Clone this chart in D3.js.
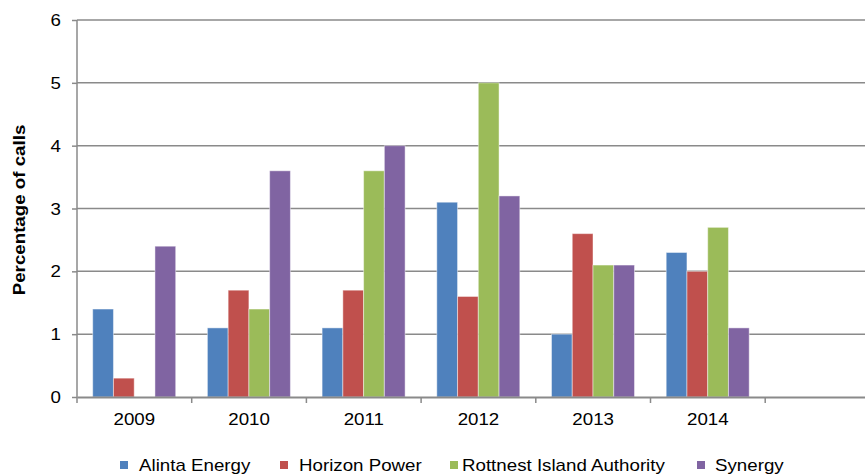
<!DOCTYPE html>
<html><head><meta charset="utf-8">
<script src="https://cdn.jsdelivr.net/npm/d3@7"></script>
<style>
html,body{margin:0;padding:0;background:#fff;}
svg{display:block;font-family:"Liberation Sans",Arial,sans-serif;}
</style></head>
<body><svg id="c" width="865" height="475"></svg>
<script>
const categories = ["2009","2010","2011","2012","2013","2014"];
const seriesNames = ["Alinta Energy","Horizon Power","Rottnest Island Authority","Synergy"];
const alinta   = [1.4, 1.1, 1.1, 3.1, 1.0, 2.3];
const horizon  = [0.3, 1.7, 1.7, 1.6, 2.6, 2.0];
const rottnest = [null, 1.4, 3.6, 5.0, 2.1, 2.7];
const synergy  = [2.4, 3.6, 4.0, 3.2, 2.1, 1.1];
const yTicks = [0,1,2,3,4,5,6];
const colors = ["#4F81BD","#C0504D","#9BBB59","#8064A2"];
const yTitle = "Percentage of calls";

const seriesVals = [alinta, horizon, rottnest, synergy];
const svg = d3.select("#c");
const L = 77, T = 20, B = 397, band = 114.7;
const slots = categories.concat(["\u00a0"]);
const x = d3.scaleBand().domain(slots).range([L, L + band*slots.length]).padding(0);
const y = d3.scaleLinear().domain([0,6]).range([B, T]);
const xs = d3.scaleBand().domain(seriesNames).range([15.7, 15.7+83]).padding(0);
const SX = 1.17;
const gridCol = "#8a8a8a";

// gridlines + y axis
const ya = svg.append("g").attr("transform",`translate(${L},0)`)
  .call(d3.axisLeft(y).tickValues(yTicks).tickSize(5).tickFormat(d3.format("d")));
ya.select(".domain").remove();
ya.selectAll(".tick line").attr("stroke",gridCol).attr("stroke-width",1.5);
ya.selectAll(".tick text").attr("font-size",16).attr("fill","#000")
  .attr("x",0).attr("dy","0.35em")
  .attr("transform",`translate(-16,0) scale(${SX},1)`);
svg.append("g").selectAll("line").data(yTicks.filter(d=>d>0)).join("line")
  .attr("x1",L).attr("x2",x.range()[1]).attr("y1",d=>y(d)).attr("y2",d=>y(d))
  .attr("stroke",gridCol).attr("stroke-width",1.5);

// bars
const rows = categories.map((c,i)=>({c, vals: seriesVals.map((s,j)=>({name:seriesNames[j], v:s[i], j}))}));
svg.append("g").selectAll("g").data(rows).join("g")
  .attr("transform",d=>`translate(${x(d.c)},0)`)
  .selectAll("rect").data(d=>d.vals.filter(v=>v.v!=null)).join("rect")
  .attr("x",d=>xs(d.name)).attr("width",xs.bandwidth())
  .attr("y",d=>y(d.v)).attr("height",d=>B-y(d.v))
  .attr("fill",d=>colors[d.j]).attr("stroke","#ffffff").attr("stroke-opacity",0.45).attr("stroke-width",1);

// y axis line
svg.append("line").attr("x1",L).attr("x2",L).attr("y1",T).attr("y2",B+0.5)
  .attr("stroke",gridCol).attr("stroke-width",1.5);

// x axis
const xa = svg.append("g").attr("transform",`translate(0,${B})`)
  .call(d3.axisBottom(x).tickSize(0).tickPadding(0));
xa.select(".domain").attr("stroke",gridCol).attr("stroke-width",1.8);
xa.selectAll(".tick text").attr("font-size",16).attr("fill","#000")
  .attr("y",0).attr("dy",0)
  .attr("transform",`translate(0,28) scale(${SX},1)`);
svg.append("g").selectAll("line").data(slots.map(s=>x(s)).concat([x.range()[1]])).join("line")
  .attr("x1",d=>d).attr("x2",d=>d).attr("y1",B).attr("y2",B+6)
  .attr("stroke",gridCol).attr("stroke-width",1.5);

// y title
svg.append("text").attr("transform",`translate(25,210) rotate(-90) scale(${SX},1)`)
  .attr("text-anchor","middle").attr("font-size",16).attr("font-weight","bold").text(yTitle);

// legend
const legX = [120, 280, 450, 697];
const lg = svg.append("g").selectAll("g").data(seriesNames).join("g")
  .attr("transform",(d,i)=>`translate(${legX[i]},465)`);
lg.append("rect").attr("x",0).attr("y",-4).attr("width",8).attr("height",8).attr("fill",(d,i)=>colors[i]);
lg.append("text").attr("transform",(d,i)=>`translate(${i==2?12:(i==3?18:19)},6) scale(${SX},1)`)
  .attr("font-size",16).text(d=>d);
</script></body></html>
